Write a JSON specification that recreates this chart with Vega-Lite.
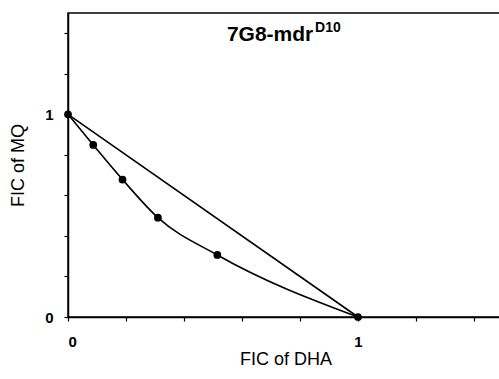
{
  "$schema": "https://vega.github.io/schema/vega-lite/v6.json",
  "autosize": "none",
  "padding": {"left": 68, "top": 13, "right": 0, "bottom": 62},
  "width": 435,
  "height": 304,
  "config": {
    "font": "Liberation Sans",
    "view": {"stroke": "black", "strokeWidth": 1.5},
    "axis": {
      "grid": false,
      "domainColor": "black",
      "domainWidth": 1.5,
      "tickColor": "black",
      "tickWidth": 1.2,
      "tickSize": 4,
      "labelColor": "black",
      "labelFont": "Liberation Sans",
      "labelFontWeight": "bold",
      "labelFontSize": 15,
      "titleColor": "black",
      "titleFont": "Liberation Sans",
      "titleFontWeight": "normal",
      "titleFontSize": 18
    }
  },
  "datasets": {
    "additive": [
      {"dha": 0, "mq": 1},
      {"dha": 1, "mq": 0}
    ],
    "observed": [
      {"dha": 0, "mq": 1},
      {"dha": 0.087, "mq": 0.849},
      {"dha": 0.188, "mq": 0.678},
      {"dha": 0.31, "mq": 0.49},
      {"dha": 0.515, "mq": 0.306},
      {"dha": 1, "mq": 0}
    ],
    "labels": [
      {"dha": 0.548, "mq": 1.36, "text": "7G8-mdr", "size": 21},
      {"dha": 0.852, "mq": 1.405, "text": "D10", "size": 14}
    ]
  },
  "layer": [
    {
      "data": {"name": "additive"},
      "mark": {"type": "line", "color": "black", "strokeWidth": 1.6},
      "encoding": {
        "x": {
          "field": "dha", "type": "quantitative",
          "scale": {"domain": [0, 1.5], "nice": false, "zero": false},
          "axis": {
            "title": "FIC of DHA",
            "values": [0, 0.2, 0.4, 0.6, 0.8, 1, 1.2, 1.4],
            "labelExpr": "datum.value == 0 ? '0' : datum.value == 1 ? '1' : ''",
            "labelPadding": 13,
            "titlePadding": 1
          }
        },
        "y": {
          "field": "mq", "type": "quantitative",
          "scale": {"domain": [0, 1.5], "nice": false, "zero": false},
          "axis": {
            "title": "FIC of MQ",
            "values": [0, 0.2, 0.4, 0.6, 0.8, 1, 1.2, 1.4],
            "labelExpr": "datum.value == 0 ? '0' : datum.value == 1 ? '1' : ''",
            "labelPadding": 11,
            "titlePadding": 17
          }
        }
      }
    },
    {
      "data": {"name": "observed"},
      "mark": {"type": "line", "color": "black", "strokeWidth": 1.6, "interpolate": "monotone"},
      "encoding": {
        "x": {"field": "dha", "type": "quantitative"},
        "y": {"field": "mq", "type": "quantitative"}
      }
    },
    {
      "data": {"name": "observed"},
      "mark": {"type": "point", "filled": true, "color": "black", "opacity": 1, "size": 60},
      "encoding": {
        "x": {"field": "dha", "type": "quantitative"},
        "y": {"field": "mq", "type": "quantitative"}
      }
    },
    {
      "data": {"name": "labels"},
      "mark": {"type": "text", "align": "left", "baseline": "alphabetic", "fontWeight": "bold", "color": "black", "font": "Liberation Sans"},
      "encoding": {
        "x": {"field": "dha", "type": "quantitative"},
        "y": {"field": "mq", "type": "quantitative"},
        "text": {"field": "text"},
        "size": {"field": "size", "type": "quantitative", "scale": null, "legend": null}
      }
    }
  ]
}
